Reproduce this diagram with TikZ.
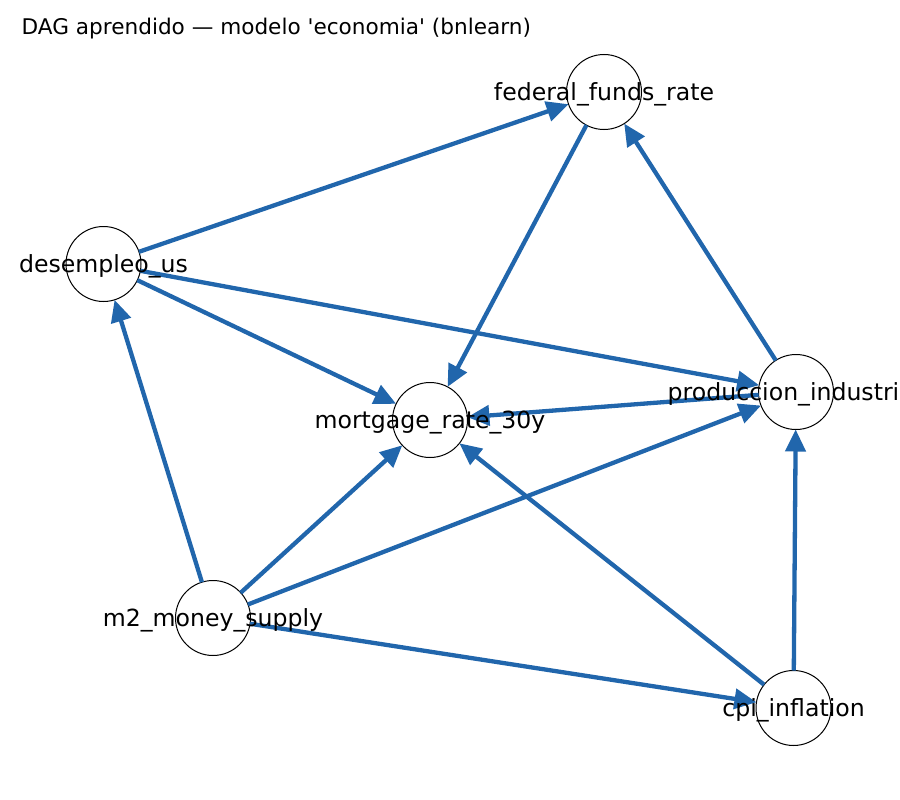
\documentclass[tikz,border=0pt]{standalone}
\usepackage{fontspec}
\setmainfont{DejaVu Sans}[Ligatures=TeXOff]
\usetikzlibrary{arrows.meta}
\definecolor{edgeblue}{HTML}{2166AC}
\tikzset{
  var/.style={circle, draw=black, line width=1pt, fill=white, minimum size=75pt, inner sep=0pt, outer sep=0pt},
  varlabel/.style={inner sep=0pt, anchor=base, font=\fontsize{23.6}{28}\selectfont},
  link/.style={draw=edgeblue, line width=4.3pt, -{Triangle[length=22pt, width=20pt]}}
}
\begin{document}
\begin{tikzpicture}[x=1pt, y=-1pt]
  \useasboundingbox (0,0) rectangle (900,800);
  \node[anchor=base west, inner sep=0pt, font=\fontsize{21.6}{26}\selectfont] (title) at (21.5,34.5)
    {DAG aprendido — modelo 'economia' (bnlearn)};

  % variables
  \node[var] (ffr) at (604,92) {};
  \node[var] (des) at (103.5,264) {};
  \node[var] (mor) at (430,420) {};
  \node[var] (pro) at (796,392) {};
  \node[var] (m2)  at (213,618) {};
  \node[var] (cpi) at (793.5,708) {};

  % learned arcs
  \draw[link] (des) -- (ffr);
  \draw[link] (ffr) -- (mor);
  \draw[link] (pro) -- (ffr);
  \draw[link] (des) -- (pro);
  \draw[link] (des) -- (mor);
  \draw[link] (pro) -- (mor);
  \draw[link] (m2) -- (des);
  \draw[link] (m2) -- (mor);
  \draw[link] (m2) -- (pro);
  \draw[link] (m2) -- (cpi);
  \draw[link] (cpi) -- (mor);
  \draw[link] (cpi) -- (pro);

  % variable names
  \node[varlabel] (ffrlab) at ([yshift=-8pt]ffr.center) {federal\_funds\_rate};
  \node[varlabel] (deslab) at ([yshift=-8pt]des.center) {desempleo\_us};
  \node[varlabel] (morlab) at ([yshift=-8pt]mor.center) {mortgage\_rate\_30y};
  \node[varlabel, anchor=base west] (prolab) at ([xshift=-128.5pt, yshift=-8pt]pro.center) {produccion\_industri};
  \node[varlabel] (m2lab)  at ([yshift=-8pt]m2.center)  {m2\_money\_supply};
  \node[varlabel] (cpilab) at ([yshift=-8pt]cpi.center) {cpi\_inflation};
\end{tikzpicture}
\end{document}
